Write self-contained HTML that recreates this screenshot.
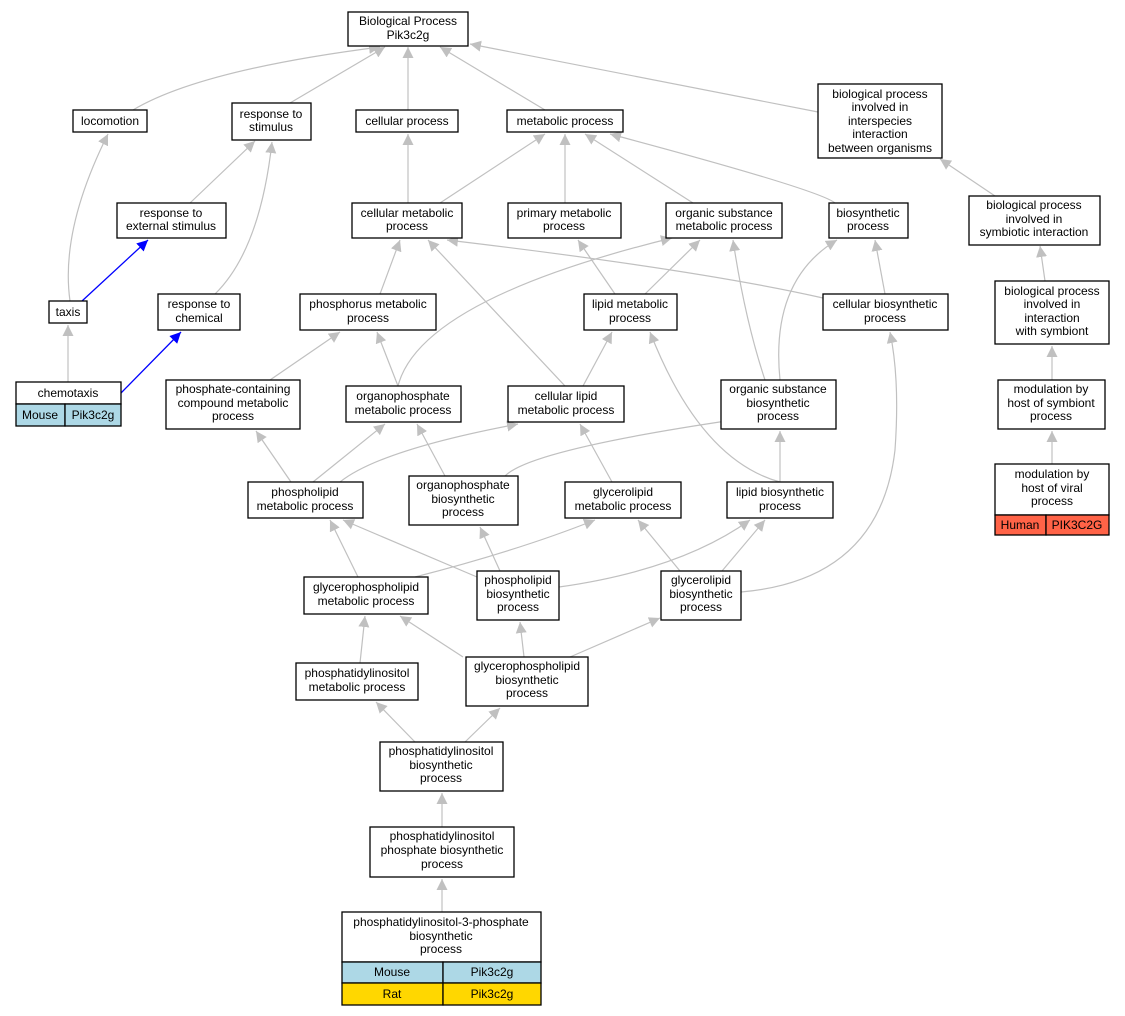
<!DOCTYPE html>
<html><head><meta charset="utf-8"><style>
html,body{margin:0;padding:0;background:#fff;}
svg{display:block;}
text{font-family:"Liberation Sans",Arial,sans-serif;font-size:12px;text-anchor:middle;fill:#000;}
.n{fill:#fff;stroke:#000;stroke-width:1.3;}
.e{fill:none;stroke:#c0c0c0;stroke-width:1.2;marker-end:url(#ag);}
.b{fill:none;stroke:#0000ff;stroke-width:1.3;marker-end:url(#ab);}
</style></head><body>
<svg width="1125" height="1016" viewBox="0 0 1125 1016" xmlns="http://www.w3.org/2000/svg">
<defs>
<marker id="ag" markerUnits="userSpaceOnUse" markerWidth="12" markerHeight="12" refX="11" refY="5.5" orient="auto"><path d="M0,0 L11,5.5 L0,11 Z" fill="#c0c0c0"/></marker>
<marker id="ab" markerUnits="userSpaceOnUse" markerWidth="12" markerHeight="12" refX="11" refY="5.5" orient="auto"><path d="M0,0 L11,5.5 L0,11 Z" fill="#0000ff"/></marker>
</defs>
<!-- edges -->
<path class="e" d="M133,110 Q200,70 380,47"/>
<path class="e" d="M290,103 L385,47"/>
<path class="e" d="M408,110 L408,47"/>
<path class="e" d="M545,110 L440,47"/>
<path class="e" d="M818,112 L470,44"/>
<path class="e" d="M190,203 L255,141"/>
<path class="e" d="M408,203 L408,134"/>
<path class="e" d="M440,203 L545,134"/>
<path class="e" d="M565,203 L565,134"/>
<path class="e" d="M693,203 L585,134"/>
<path class="e" d="M835,203 Q820,190 610,134"/>
<path class="e" d="M995,196 L940,159"/>
<path class="e" d="M70,301 Q60,230 108,134"/>
<path class="b" d="M82,301 L148,240"/>
<path class="e" d="M215,294 Q260,250 272,142"/>
<path class="e" d="M380,294 L400,240"/>
<path class="e" d="M615,294 L578,240"/>
<path class="e" d="M645,294 L700,240"/>
<path class="e" d="M823,298 Q700,270 447,240"/>
<path class="e" d="M885,294 L875,240"/>
<path class="e" d="M1045,281 L1040,246"/>
<path class="e" d="M68,382 L68,325"/>
<path class="b" d="M121,393 L181,332"/>
<path class="e" d="M270,380 L340,332"/>
<path class="e" d="M398,386 L377,332"/>
<path class="e" d="M398,386 Q420,300 672,238"/>
<path class="e" d="M583,386 L612,332"/>
<path class="e" d="M565,386 L428,240"/>
<path class="e" d="M765,380 Q745,320 733,240"/>
<path class="e" d="M780,380 Q770,280 837,240"/>
<path class="e" d="M1052,380 L1052,346"/>
<path class="e" d="M291,482 L256,431"/>
<path class="e" d="M313,482 L385,424"/>
<path class="e" d="M340,482 Q380,450 518,424"/>
<path class="e" d="M445,476 L417,424"/>
<path class="e" d="M505,476 Q530,450 733,420"/>
<path class="e" d="M612,482 L580,424"/>
<path class="e" d="M780,482 Q700,460 650,332"/>
<path class="e" d="M780,482 L780,431"/>
<path class="e" d="M1052,464 L1052,431"/>
<path class="e" d="M358,577 L330,520"/>
<path class="e" d="M415,577 Q520,550 595,520"/>
<path class="e" d="M477,577 L343,520"/>
<path class="e" d="M500,571 L480,527"/>
<path class="e" d="M559,587 Q680,570 750,520"/>
<path class="e" d="M680,571 L638,520"/>
<path class="e" d="M722,571 L765,520"/>
<path class="e" d="M741,592 Q880,580 895,450 Q900,380 890,332"/>
<path class="e" d="M360,663 L365,616"/>
<path class="e" d="M463,657 L400,616"/>
<path class="e" d="M524,657 L520,622"/>
<path class="e" d="M570,657 L660,618"/>
<path class="e" d="M415,742 L376,702"/>
<path class="e" d="M465,742 L500,708"/>
<path class="e" d="M442,827 L442,793"/>
<path class="e" d="M442,912 L442,879"/>
<!-- nodes -->
<rect class="n" x="348" y="12" width="120" height="34"/><text x="408" y="25">Biological Process</text><text x="408" y="39">Pik3c2g</text>
<rect class="n" x="73" y="110" width="74" height="22"/><text x="110" y="125">locomotion</text>
<rect class="n" x="232" y="103" width="79" height="37"/><text x="271" y="118">response to</text><text x="271" y="131">stimulus</text>
<rect class="n" x="356" y="110" width="102" height="22"/><text x="407" y="125">cellular process</text>
<rect class="n" x="507" y="110" width="116" height="22"/><text x="565" y="125">metabolic process</text>
<rect class="n" x="818" y="84" width="124" height="74"/><text x="880" y="98">biological process</text><text x="880" y="111">involved in</text><text x="880" y="125">interspecies</text><text x="880" y="138">interaction</text><text x="880" y="152">between organisms</text>
<rect class="n" x="117" y="203" width="109" height="35"/><text x="171" y="217">response to</text><text x="171" y="230">external stimulus</text>
<rect class="n" x="352" y="203" width="110" height="35"/><text x="407" y="217">cellular metabolic</text><text x="407" y="230">process</text>
<rect class="n" x="508" y="203" width="113" height="35"/><text x="564" y="217">primary metabolic</text><text x="564" y="230">process</text>
<rect class="n" x="666" y="203" width="116" height="35"/><text x="724" y="217">organic substance</text><text x="724" y="230">metabolic process</text>
<rect class="n" x="829" y="203" width="79" height="35"/><text x="868" y="217">biosynthetic</text><text x="868" y="230">process</text>
<rect class="n" x="969" y="196" width="131" height="49"/><text x="1034" y="209">biological process</text><text x="1034" y="223">involved in</text><text x="1034" y="236">symbiotic interaction</text>
<rect class="n" x="49" y="301" width="38" height="22"/><text x="68" y="316">taxis</text>
<rect class="n" x="158" y="294" width="82" height="36"/><text x="199" y="308">response to</text><text x="199" y="322">chemical</text>
<rect class="n" x="300" y="294" width="136" height="36"/><text x="368" y="308">phosphorus metabolic</text><text x="368" y="322">process</text>
<rect class="n" x="584" y="294" width="93" height="36"/><text x="630" y="308">lipid metabolic</text><text x="630" y="322">process</text>
<rect class="n" x="823" y="294" width="125" height="36"/><text x="885" y="308">cellular biosynthetic</text><text x="885" y="322">process</text>
<rect class="n" x="995" y="281" width="114" height="63"/><text x="1052" y="295">biological process</text><text x="1052" y="308">involved in</text><text x="1052" y="322">interaction</text><text x="1052" y="335">with symbiont</text>
<rect class="n" x="16" y="382" width="105" height="22"/><text x="68" y="397">chemotaxis</text>
<rect x="16" y="404" width="49" height="22" fill="#add8e6" stroke="#000" stroke-width="1.3"/><text x="40" y="419">Mouse</text>
<rect x="65" y="404" width="56" height="22" fill="#add8e6" stroke="#000" stroke-width="1.3"/><text x="93" y="419">Pik3c2g</text>
<rect class="n" x="166" y="380" width="134" height="49"/><text x="233" y="393">phosphate-containing</text><text x="233" y="407">compound metabolic</text><text x="233" y="420">process</text>
<rect class="n" x="346" y="386" width="115" height="36"/><text x="403" y="400">organophosphate</text><text x="403" y="414">metabolic process</text>
<rect class="n" x="508" y="386" width="116" height="36"/><text x="566" y="400">cellular lipid</text><text x="566" y="414">metabolic process</text>
<rect class="n" x="721" y="380" width="115" height="49"/><text x="778" y="393">organic substance</text><text x="778" y="407">biosynthetic</text><text x="778" y="420">process</text>
<rect class="n" x="998" y="380" width="107" height="49"/><text x="1051" y="393">modulation by</text><text x="1051" y="407">host of symbiont</text><text x="1051" y="420">process</text>
<rect class="n" x="248" y="482" width="115" height="36"/><text x="305" y="496">phospholipid</text><text x="305" y="510">metabolic process</text>
<rect class="n" x="409" y="476" width="109" height="49"/><text x="463" y="489">organophosphate</text><text x="463" y="503">biosynthetic</text><text x="463" y="516">process</text>
<rect class="n" x="565" y="482" width="116" height="36"/><text x="623" y="496">glycerolipid</text><text x="623" y="510">metabolic process</text>
<rect class="n" x="727" y="482" width="106" height="36"/><text x="780" y="496">lipid biosynthetic</text><text x="780" y="510">process</text>
<rect class="n" x="995" y="464" width="114" height="51"/><text x="1052" y="478">modulation by</text><text x="1052" y="492">host of viral</text><text x="1052" y="505">process</text>
<rect x="995" y="515" width="51" height="20" fill="#ff6347" stroke="#000" stroke-width="1.3"/><text x="1020" y="529">Human</text>
<rect x="1046" y="515" width="63" height="20" fill="#ff6347" stroke="#000" stroke-width="1.3"/><text x="1077" y="529">PIK3C2G</text>
<rect class="n" x="304" y="577" width="124" height="37"/><text x="366" y="591">glycerophospholipid</text><text x="366" y="605">metabolic process</text>
<rect class="n" x="477" y="571" width="82" height="49"/><text x="518" y="584">phospholipid</text><text x="518" y="598">biosynthetic</text><text x="518" y="611">process</text>
<rect class="n" x="661" y="571" width="80" height="49"/><text x="701" y="584">glycerolipid</text><text x="701" y="598">biosynthetic</text><text x="701" y="611">process</text>
<rect class="n" x="296" y="663" width="122" height="37"/><text x="357" y="677">phosphatidylinositol</text><text x="357" y="691">metabolic process</text>
<rect class="n" x="466" y="657" width="122" height="49"/><text x="527" y="670">glycerophospholipid</text><text x="527" y="684">biosynthetic</text><text x="527" y="697">process</text>
<rect class="n" x="380" y="742" width="123" height="49"/><text x="441" y="755">phosphatidylinositol</text><text x="441" y="769">biosynthetic</text><text x="441" y="782">process</text>
<rect class="n" x="370" y="827" width="144" height="50"/><text x="442" y="840">phosphatidylinositol</text><text x="442" y="854">phosphate biosynthetic</text><text x="442" y="868">process</text>
<rect class="n" x="342" y="912" width="199" height="50"/><text x="441" y="926">phosphatidylinositol-3-phosphate</text><text x="441" y="940">biosynthetic</text><text x="441" y="953">process</text>
<rect x="342" y="962" width="101" height="21" fill="#add8e6" stroke="#000" stroke-width="1.3"/><text x="392" y="976">Mouse</text>
<rect x="443" y="962" width="98" height="21" fill="#add8e6" stroke="#000" stroke-width="1.3"/><text x="492" y="976">Pik3c2g</text>
<rect x="342" y="983" width="101" height="22" fill="#ffd700" stroke="#000" stroke-width="1.3"/><text x="392" y="998">Rat</text>
<rect x="443" y="983" width="98" height="22" fill="#ffd700" stroke="#000" stroke-width="1.3"/><text x="492" y="998">Pik3c2g</text>
</svg>
</body></html>
